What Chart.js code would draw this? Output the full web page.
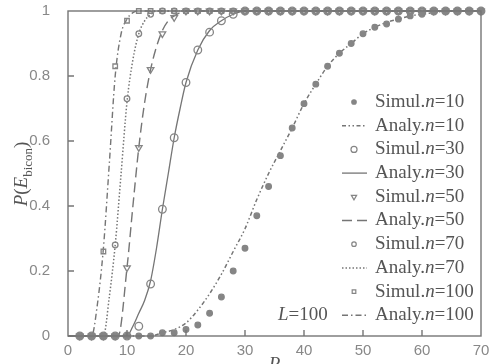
<!DOCTYPE html>
<html>
<head>
<meta charset="utf-8">
<script src="https://cdn.jsdelivr.net/npm/chart.js@4/dist/chart.umd.min.js"></script>
<style>
  html, body { margin: 0; padding: 0; background: #fff; }
  #wrap { width: 491px; height: 364px; }
</style>
</head>
<body>
<div id="wrap"><canvas id="lineChart" width="491" height="364"></canvas></div>
<script>
// Simulated points (R every 2)
var simR = [2,4,6,8,10,12,14,16,18,20,22,24,26,28,30,32,34,36,38,40,42,44,46,48,50,52,54,56,58,60,62,64,66,68,70];
var simN10 = [0,0,0,0,0,0,0,0.01,0.01,0.02,0.034,0.07,0.12,0.20,0.27,0.37,0.46,0.555,0.64,0.715,0.775,0.83,0.87,0.90,0.93,0.95,0.96,0.975,0.985,0.99,1,1,1,1,1];
var simN30 = [0,0,0,0,0,0.03,0.16,0.39,0.61,0.78,0.88,0.935,0.97,0.99,1,1,1,1,1,1,1,1,1,1,1,1,1,1,1,1,1,1,1,1,1];
var simN50 = [0,0,0,0,0.21,0.58,0.82,0.93,0.98,1,1,1,1,1,1,1,1,1,1,1,1,1,1,1,1,1,1,1,1,1,1,1,1,1,1];
var simN70 = [0,0,0,0.28,0.73,0.93,0.99,1,1,1,1,1,1,1,1,1,1,1,1,1,1,1,1,1,1,1,1,1,1,1,1,1,1,1,1];
var simN100 = [0,0,0.26,0.83,0.97,1,1,1,1,1,1,1,1,1,1,1,1,1,1,1,1,1,1,1,1,1,1,1,1,1,1,1,1,1,1];

// Analytical curves
var anaR10 = [0,14,16,18,20,22,24,26,28,30,32,34,36,38,40,42,44,46,48,50,52,54,56,58,60,62,64,66,70];
var anaN10 = [0,0,0.01,0.02,0.04,0.08,0.13,0.19,0.26,0.33,0.42,0.50,0.57,0.64,0.715,0.775,0.83,0.87,0.90,0.93,0.95,0.965,0.975,0.985,0.99,0.995,1,1,1];
var anaR30 = [0,10,11,12,13,14,15,16,17,18,19,20,22,24,26,28,30,70];
var anaN30 = [0,0,0.03,0.07,0.11,0.17,0.27,0.39,0.50,0.61,0.70,0.78,0.88,0.94,0.97,0.99,1,1];
var anaR50 = [0,8.5,10,11,12,13,14,15,16,17,18,20,70];
var anaN50 = [0,0,0.21,0.40,0.58,0.72,0.82,0.89,0.94,0.97,0.985,1,1];
var anaR70 = [0,6,7,8,9,10,11,12,13,14,15,70];
var anaN70 = [0,0,0.12,0.28,0.50,0.72,0.85,0.93,0.97,0.99,1,1];
var anaR100 = [0,4,5,6,7,8,9,10,11,12,70];
var anaN100 = [0,0,0.10,0.27,0.53,0.80,0.93,0.975,0.995,1,1];

var xTicks = [0,10,20,30,40,50,60,70];
var yTicks = [0,0.2,0.4,0.6,0.8,1];

var grey = '#757575';
var markGrey = '#858585';

function pts(xs, ys) {
    return xs.map(function (x, i) { return {x: x, y: ys[i]}; });
}

function simSet(label, ys, style, r, fill, rot) {
    return {
        label: label,
        data: pts(simR, ys),
        showLine: false,
        pointStyle: style,
        pointRadius: r,
        pointRotation: rot || 0,
        pointBorderWidth: 1.3,
        pointBorderColor: markGrey,
        pointBackgroundColor: fill ? markGrey : 'rgba(0,0,0,0)',
        clip: false,
        order: 0
    };
}

function anaSet(label, xs, ys, dash, lw) {
    return {
        label: label,
        data: pts(xs, ys),
        showLine: true,
        borderColor: grey,
        borderWidth: lw,
        borderDash: dash,
        pointRadius: 0,
        fill: false,
        cubicInterpolationMode: 'monotone',
        clip: false,
        order: 1
    };
}

var dsets = [
    simSet('Simul.n=10', simN10, 'circle', 2.8, true),
    anaSet('Analy.n=10', anaR10, anaN10, [4, 2.5, 1.5, 2.5, 1.5, 2.5], 1.5),
    simSet('Simul.n=30', simN30, 'circle', 3.8, false),
    anaSet('Analy.n=30', anaR30, anaN30, [], 1.3),
    simSet('Simul.n=50', simN50, 'triangle', 3.8, false, 180),
    anaSet('Analy.n=50', anaR50, anaN50, [10, 5], 1.4),
    simSet('Simul.n=70', simN70, 'circle', 2.8, false),
    anaSet('Analy.n=70', anaR70, anaN70, [1.5, 2], 1.5),
    simSet('Simul.n=100', simN100, 'rect', 3.2, false),
    anaSet('Analy.n=100', anaR100, anaN100, [6, 3, 1.5, 3], 1.4)
];

// frame, inward ticks, legend and titles
var decor = {
    id: 'decor',
    afterDraw: function (chart) {
        var ctx = chart.ctx, a = chart.chartArea;
        var xs = chart.scales.x, ys = chart.scales.y;
        ctx.save();
        ctx.strokeStyle = grey;
        ctx.lineWidth = 1.4;
        ctx.setLineDash([]);
        ctx.strokeRect(a.left, a.top, a.right - a.left, a.bottom - a.top);
        ctx.beginPath();
        xTicks.slice(1, -1).forEach(function (v) {
            var px = xs.getPixelForValue(v);
            ctx.moveTo(px, a.bottom); ctx.lineTo(px, a.bottom - 6);
        });
        yTicks.slice(1, -1).forEach(function (v) {
            var py = ys.getPixelForValue(v);
            ctx.moveTo(a.left, py); ctx.lineTo(a.left + 6, py);
        });
        ctx.stroke();

        // legend
        var top = 102, step = 23.7, symX = 354, txtX = 375;
        ctx.textBaseline = 'middle';
        dsets.forEach(function (d, i) {
            var y = top + i * step;
            ctx.setLineDash([]);
            if (d.showLine === false) {
                ctx.strokeStyle = d.pointBorderColor;
                ctx.fillStyle = d.pointBackgroundColor;
                ctx.lineWidth = 1.2;
                Chart.helpers.drawPoint(ctx, {pointStyle: d.pointStyle, radius: d.pointRadius * 0.8, rotation: d.pointRotation, borderWidth: 1.2}, symX, y);
            } else {
                ctx.strokeStyle = grey;
                ctx.lineWidth = d.borderWidth;
                ctx.setLineDash(d.borderDash);
                ctx.beginPath();
                ctx.moveTo(symX - 12, y); ctx.lineTo(symX + 13, y);
                ctx.stroke();
            }
            var parts = d.label.split('n=');
            var x = txtX;
            ctx.fillStyle = '#555';
            ctx.font = '19px "Liberation Serif", serif';
            ctx.fillText(parts[0], x, y); x += ctx.measureText(parts[0]).width;
            ctx.font = 'italic 19px "Liberation Serif", serif';
            ctx.fillText('n', x, y); x += ctx.measureText('n').width;
            ctx.font = '19px "Liberation Serif", serif';
            ctx.fillText('=' + parts[1], x, y);
        });
        ctx.setLineDash([]);
        ctx.fillStyle = '#555';
        var ly = top + 9 * step, lx = 278;
        ctx.font = 'italic 19px "Liberation Serif", serif';
        ctx.fillText('L', lx, ly); lx += ctx.measureText('L').width;
        ctx.font = '19px "Liberation Serif", serif';
        ctx.fillText('=100', lx, ly);

        // x title
        ctx.textAlign = 'center';
        ctx.textBaseline = 'alphabetic';
        ctx.font = 'italic 19px "Liberation Serif", serif';
        ctx.fillText('R', (a.left + a.right) / 2, 370);

        // y title
        ctx.translate(21, 174);
        ctx.rotate(-Math.PI / 2);
        ctx.textAlign = 'left';
        var segs = [['P', 'italic 19px', 0], ['(', '19px', 0], ['E', 'italic 19px', 0], ['bicon', '13px', 5], [')', '19px', 0]];
        var w = 0;
        segs.forEach(function (s) { ctx.font = s[1] + ' "Liberation Serif", serif'; w += ctx.measureText(s[0]).width; });
        var tx = -w / 2;
        segs.forEach(function (s) {
            ctx.font = s[1] + ' "Liberation Serif", serif';
            ctx.fillText(s[0], tx, 6 + s[2]);
            tx += ctx.measureText(s[0]).width;
        });
        ctx.restore();
    }
};

var ctxL = document.getElementById('lineChart').getContext('2d');
var myChart = new Chart(ctxL, {
    type: 'scatter',
    data: { datasets: dsets },
    options: {
        responsive: false,
        animation: false,
        layout: { padding: { left: 0, top: 11, right: 10, bottom: 0 } },
        plugins: { legend: { display: false }, tooltip: { enabled: false } },
        scales: {
            x: {
                type: 'linear', min: 0, max: 70,
                afterFit: function (s) { s.height = 28; s.paddingLeft = 0; s.paddingRight = 0; },
                afterBuildTicks: function (s) { s.ticks = xTicks.map(function (v) { return {value: v}; }); },
                grid: { display: false },
                border: { display: false },
                ticks: { color: '#888', padding: -2, font: { family: '"Liberation Sans", Arial', size: 15 },
                         callback: function (v) { return String(v); } }
            },
            y: {
                type: 'linear', min: 0, max: 1,
                afterFit: function (s) { s.width = 68; s.paddingTop = 0; s.paddingBottom = 0; },
                afterBuildTicks: function (s) { s.ticks = yTicks.map(function (v) { return {value: v}; }); },
                grid: { display: false },
                border: { display: false },
                ticks: { color: '#888', padding: 10, font: { family: '"Liberation Sans", Arial', size: 15 },
                         callback: function (v) { return String(v); } }
            }
        }
    },
    plugins: [decor]
});
</script>
</body>
</html>
